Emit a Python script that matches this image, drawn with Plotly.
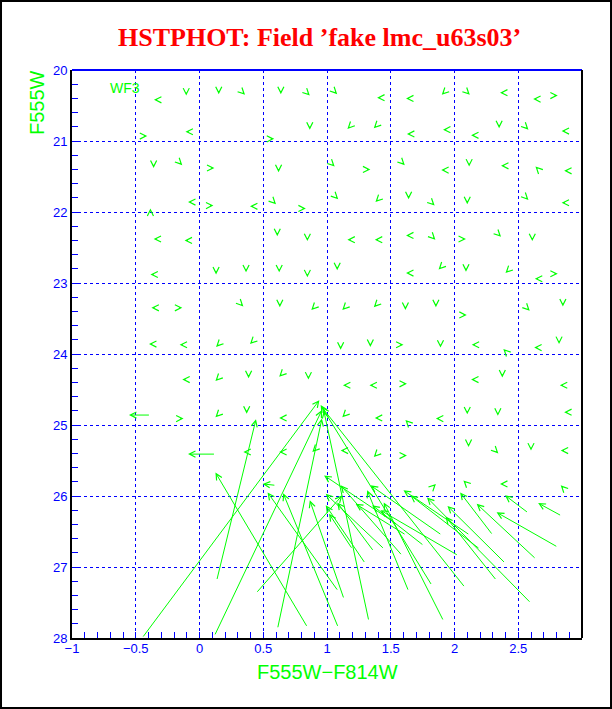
import plotly.graph_objects as go

title_text = "HSTPHOT: Field \u2019fake lmc_u63s03\u2019"
x_title = "F555W\u2212F814W"
y_title = "F555W"
chip_label = "WF3"

x_ticks = [-1, -0.5, 0, 0.5, 1, 1.5, 2, 2.5]
x_tick_text = ["\u22121", "\u22120.5", "0", "0.5", "1", "1.5", "2", "2.5"]
y_ticks = [20, 21, 22, 23, 24, 25, 26, 27, 28]
y_tick_text = ["20", "21", "22", "23", "24", "25", "26", "27", "28"]

# small (well-measured) fake stars: output position and direction of the shift
small_x = [
    -0.357, -0.104, 0.151, 0.357, 0.638, 0.865, 1.08, 1.393, 1.62, 1.90, 2.12, 2.357, 2.617, 2.81,
    -0.41, -0.11, 0.15, 0.39, 0.586, 0.865, 1.16, 1.367, 1.627, 1.91, 2.13, 2.35, 2.58, 2.84,
    -0.36, -0.135, 0.117, 0.378, 0.62, 0.89, 1.06, 1.34, 1.61, 1.896, 2.115, 2.365, 2.635, 2.86,
    -0.385, -0.09, 0.109, 0.396, 0.60, 0.834, 1.088, 1.38, 1.64, 1.844, 2.10, 2.357, 2.58, 2.84,
    -0.36, -0.117, 0.13, 0.385, 0.61, 0.846, 1.16, 1.375, 1.62, 1.85, 2.09, 2.365, 2.61, 2.85,
    -0.385, -0.096, 0.13, 0.365, 0.625, 0.846, 1.08, 1.34, 1.62, 1.875, 2.09, 2.40, 2.63, 2.81,
    -0.377, -0.135, 0.117, 0.344, 0.63, 0.877, 1.12, 1.367, 1.615, 1.854, 2.096, 2.41, 2.59, 2.85,
    -0.396, -0.156, 0.13, 0.396, 0.638, 0.877, 1.107, 1.34, 1.60, 1.89, 2.135, 2.383, 2.625, 2.82,
    -0.39, -0.135, 0.125, 0.385, 0.625, 0.854, 1.125, 1.333, 1.627, 1.844, 2.13, 2.375, 2.586, 2.826,
    -0.125, 0.125, 0.37, 0.625, 0.88, 1.12, 1.375, 1.615, 1.854, 2.10, 2.34, 2.617, 2.86,
    0.344, 0.625, 0.885, 1.107, 1.367, 1.627, 1.89, 2.11, 2.344, 2.60, 2.833,
    1.854, 2.07, 2.357, 2.63, 2.833,
]
small_y = [
    20.42, 20.36, 20.34, 20.35, 20.34, 20.36, 20.34, 20.39, 20.40, 20.35, 20.35, 20.32, 20.41, 20.36,
    20.93, 20.87, 20.89, 20.87, 20.97, 20.84, 20.83, 20.82, 20.90, 20.84, 20.92, 20.82, 20.84, 20.86,
    21.38, 21.34, 21.38, 21.34, 21.44, 21.31, 21.36, 21.40, 21.34, 21.41, 21.36, 21.35, 21.36, 21.42,
    21.95, 21.86, 21.91, 21.92, 21.89, 21.95, 21.82, 21.86, 21.82, 21.91, 21.89, 21.87, 21.83, 21.87,
    22.38, 22.40, 22.44, 22.37, 22.34, 22.41, 22.39, 22.39, 22.33, 22.39, 22.38, 22.35, 22.41, 22.37,
    22.88, 22.87, 22.88, 22.85, 22.85, 22.92, 22.82, 22.92, 22.86, 22.81, 22.84, 22.86, 22.94, 22.87,
    23.35, 23.35, 23.38, 23.33, 23.34, 23.38, 23.38, 23.34, 23.38, 23.34, 23.45, 23.42, 23.39, 23.33,
    23.86, 23.87, 23.90, 23.86, 23.91, 23.87, 23.94, 23.90, 23.87, 23.91, 23.87, 23.93, 23.91, 23.86,
    24.37, 24.36, 24.38, 24.34, 24.32, 24.36, 24.44, 24.44, 24.42, 24.37, 24.36, 24.33, 24.37, 24.44,
    24.91, 24.89, 24.84, 24.90, 24.85, 24.89, 24.90, 24.93, 24.91, 24.85, 24.87, 24.85, 24.82,
    25.38, 25.38, 25.38, 25.36, 25.45, 25.43, 25.38, 25.31, 25.40, 25.36, 25.36,
    25.83, 25.78, 25.83, 25.91, 25.85,
]
small_dir = [
    "L", "D", "D", "DR", "D", "DR", "DR", "L", "L", "DL", "DR", "L", "L", "R",
    "R", "L", "DL", "DL", "R", "D", "DL", "DL", "L", "L", "L", "D", "DR", "L",
    "D", "DR", "R", "DL", "D", "DL", "DR", "R", "DR", "L", "D", "L", "UL", "L",
    "U", "L", "R", "L", "DR", "R", "DR", "DL", "D", "DR", "D", "DR", "DR", "L",
    "L", "L", "DL", "DL", "D", "D", "L", "L", "L", "DR", "R", "DR", "D", "DL",
    "L", "DL", "D", "D", "D", "D", "D", "DR", "L", "DL", "D", "DL", "L", "R",
    "L", "R", "DL", "DR", "D", "DL", "DL", "DL", "D", "D", "R", "UL", "DR", "D",
    "L", "L", "DL", "DL", "DL", "DL", "D", "D", "R", "D", "L", "UL", "L", "D",
    "DL", "L", "DL", "D", "DL", "D", "L", "L", "R", "DR", "L", "D", "DR", "L",
    "R", "DL", "D", "L", "DL", "DL", "L", "UL", "L", "D", "D", "DR", "L",
    "L", "L", "DL", "L", "DL", "R", "UL", "D", "DR", "D", "L",
    "UR", "UL", "L", "UL", "UL",
]
# size of the small shifts (colour, magnitude) for each direction code
shift_dx = {"L": -0.035, "R": 0.035, "U": 0.0, "D": 0.0,
            "DL": -0.025, "DR": 0.025, "UL": -0.025, "UR": 0.025}
shift_dy = {"L": 0.0, "R": 0.0, "U": -0.06, "D": 0.06,
            "DL": 0.045, "DR": 0.045, "UL": -0.045, "UR": -0.045}

# poorly recovered fake stars: input (tail) -> output (head)
big_x_in = [-0.385, 0.125, 0.599, -0.45, 0.135, 0.117, 0.443, 0.612, 0.847, 1.088, 1.088,
            1.328, 2.083, 1.823, 1.133, 1.59, 2.03, 1.90, 2.12, 2.20, 1.64, 1.914, 2.33,
            2.40, 2.64, 2.81, 2.58, 2.84, 1.367, 1.62, 1.76, 2.30, 2.60, 1.45, 1.30, 1.20, 1.55]
big_y_in = [24.86, 25.41, 25.85, 28.00, 27.19, 27.97, 27.37, 27.87, 27.85, 27.85, 27.34,
            27.76, 27.29, 27.26, 27.45, 26.84, 26.84, 26.55, 26.55, 26.75, 27.34, 27.76, 27.19,
            26.95, 26.89, 26.72, 26.24, 26.28, 26.78, 26.55, 26.70, 26.55, 27.51, 26.75, 26.95, 26.75, 26.40]
big_x_out = [-0.553, -0.09, 0.495, 0.94, 0.443, 0.96, 1.12, 0.96, 0.125, 0.656, 0.534,
             0.975, 0.96, 0.95, 0.865, 1.107, 1.419, 1.341, 1.60, 1.654, 1.315, 1.445, 1.93,
             1.945, 2.174, 2.33, 2.396, 2.656, 1.08, 1.224, 1.354, 2.044, 1.784, 0.99, 0.99, 1.016, 0.977]
big_y_out = [24.86, 25.41, 25.83, 24.65, 24.92, 24.79, 25.99, 24.91, 25.67, 25.96, 25.95,
             24.80, 24.75, 24.72, 26.06, 25.85, 26.20, 25.85, 25.92, 25.99, 25.92, 26.09, 26.29,
             26.14, 26.11, 26.23, 25.99, 26.10, 26.09, 26.11, 26.13, 25.95, 26.02, 25.97, 26.13, 26.25, 25.71]

GREEN = "#00ff00"
BLUE = "#0000ff"

arrow_style = dict(showarrow=True, text="", arrowhead=5, arrowsize=1.2, arrowwidth=1,
                   arrowcolor=GREEN, standoff=0, startstandoff=0,
                   xref="x", yref="y", axref="x", ayref="y")

annotations = []
for x, y, d in zip(small_x, small_y, small_dir):
    annotations.append(dict(x=x, y=y, ax=x - shift_dx[d], ay=y - shift_dy[d], **arrow_style))
for x0, y0, x1, y1 in zip(big_x_in, big_y_in, big_x_out, big_y_out):
    annotations.append(dict(x=x1, y=y1, ax=x0, ay=y0, **arrow_style))

annotations += [
    dict(text=title_text, xref="paper", yref="paper", x=0.486, y=1.058,
         xanchor="center", yanchor="middle", showarrow=False,
         font=dict(family="Liberation Serif", size=26, color="#ff0000", weight="bold")),
    dict(text=x_title, xref="paper", yref="paper", x=0.5, y=-0.059,
         xanchor="center", yanchor="middle", showarrow=False,
         font=dict(family="Liberation Sans", size=20, color=GREEN)),
    dict(text=y_title, xref="paper", yref="paper", x=-0.069, y=1.004,
         xanchor="center", yanchor="top", textangle=-90, showarrow=False,
         font=dict(family="Liberation Sans", size=20, color=GREEN)),
    dict(text=chip_label, xref="paper", yref="paper", x=0.104, y=0.968,
         xanchor="center", yanchor="middle", showarrow=False,
         font=dict(family="Liberation Sans", size=14, color=GREEN)),
]

fig = go.Figure()
fig.add_trace(go.Scatter(x=[None], y=[None], mode="markers", showlegend=False, hoverinfo="skip"))

fig.update_layout(
    width=612, height=709,
    margin=dict(l=72, r=30, t=70, b=71),
    paper_bgcolor="white", plot_bgcolor="white",
    showlegend=False,
    annotations=annotations,
    xaxis=dict(range=[-1, 3], tickvals=x_ticks, ticktext=x_tick_text,
               showgrid=True, gridcolor=BLUE, griddash="dot", gridwidth=1,
               zeroline=False, showline=True, linecolor="black", linewidth=2,
               ticks="inside", ticklen=6, tickcolor=BLUE, tickwidth=1,
               ticklabelstandoff=-3,
               minor=dict(tick0=-1, dtick=0.1, ticks="inside", ticklen=6,
                          tickcolor=BLUE, tickwidth=1, showgrid=False),
               tickfont=dict(family="Liberation Sans", size=13, color=BLUE)),
    yaxis=dict(range=[28, 20], tickvals=y_ticks, ticktext=y_tick_text,
               showgrid=True, gridcolor=BLUE, griddash="dot", gridwidth=1,
               zeroline=False, showline=True, linecolor="black", linewidth=2,
               ticks="inside", ticklen=6, tickcolor=BLUE, tickwidth=1,
               minor=dict(tick0=20, dtick=0.2, ticks="inside", ticklen=6,
                          tickcolor=BLUE, tickwidth=1, showgrid=False),
               tickfont=dict(family="Liberation Sans", size=13, color=BLUE)),
    shapes=[
        dict(type="line", xref="paper", yref="paper", x0=0, x1=1, y0=1, y1=1,
             line=dict(color=BLUE, width=2)),
        dict(type="line", xref="paper", yref="paper", x0=1, x1=1, y0=0, y1=1,
             line=dict(color="black", width=2)),
        dict(type="rect", xref="paper", yref="paper", x0=-0.1392, x1=1.0569,
             y0=-0.1232, y1=1.1215, line=dict(color="black", width=2)),
    ],
)

fig.write_html("out.html", config={"displayModeBar": False},
               post_script="document.body.style.margin='0px';")
